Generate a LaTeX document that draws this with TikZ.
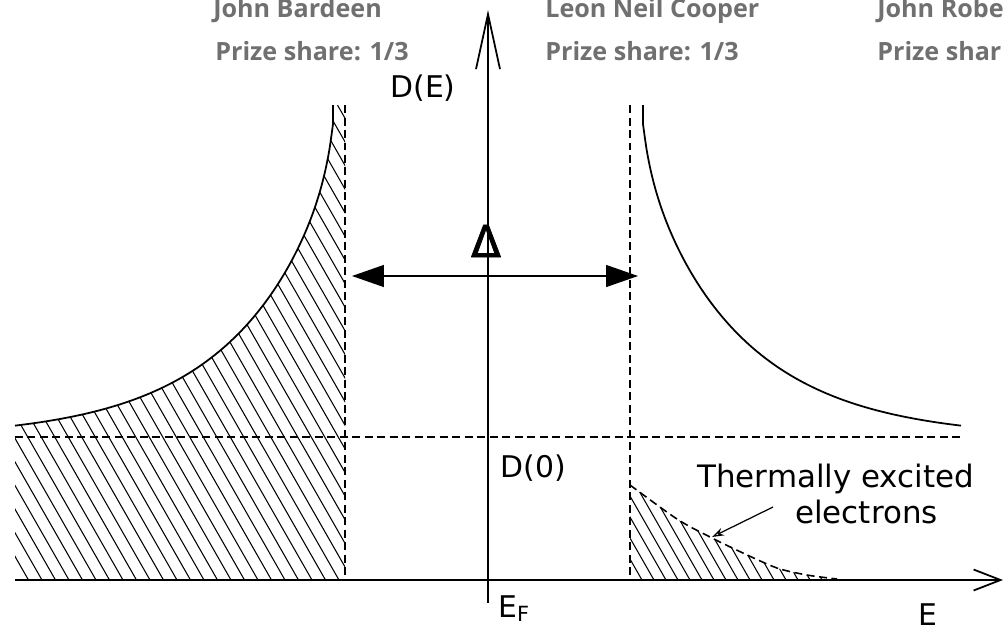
\documentclass[tikz,border=0pt]{standalone}
\usepackage{fontspec}
\setmainfont{DejaVu Sans}
\newfontfamily\hdrfont{Open Sans}
\newfontfamily\deltafont[FakeBold=1.6]{DejaVu Sans}
\usetikzlibrary{arrows.meta}
\definecolor{hdrgray}{RGB}{112,112,112}
\begin{document}
\begin{tikzpicture}[x=0.02cm,y=-0.02cm,
  axisline/.style={line width=1pt},
  curveline/.style={line width=1pt},
  gapline/.style={line width=0.9pt, dash pattern=on 0.16cm off 0.09cm},
  hatchline/.style={line width=0.6pt},
  lbl/.style={font=\fontsize{17}{20}\selectfont, inner sep=0pt},
  hdr/.style={font=\hdrfont\bfseries\fontsize{14.3}{17}\selectfont, text=hdrgray, inner sep=0pt},
  declare function={dos(\u)=580-(140+270*exp(-\u/105)+900/\u);}]

\useasboundingbox (0,0) rectangle (1004,630);

% key points
\coordinate (yb) at (488,603);
\coordinate (yt) at (488,10);
\coordinate (xl) at (15,580);
\coordinate (xr) at (1003,580);
\coordinate (gl1) at (345,105);
\coordinate (gl2) at (345,580);
\coordinate (gr1) at (630,105);
\coordinate (gr2) at (630,580);
\coordinate (d0l) at (15,437);
\coordinate (d0r) at (964,437);
\coordinate (dl) at (352,276);
\coordinate (dr) at (638,276);
\coordinate (ta) at (773,507);
\coordinate (tb) at (712,537);

% left hatched region
\begin{scope}
  \clip plot[domain=330:12, samples=90, smooth] ({345-\x}, {dos(\x)}) -- (333,105) -- (345,105) -- (345,580) -- (15,580) -- cycle;
  \foreach \a in {0,...,46} \draw[hatchline] ({15+13.5*\a},580) -- ++(-343,-600);
\end{scope}

% right hatched region
\begin{scope}
  \clip plot[smooth] coordinates {(630,485) (677,519) (710,537) (743,553) (777,568) (807,575) (837,580)} -- (630,580) -- cycle;
  \foreach \a in {0,...,24} \draw[hatchline] ({630+12*\a},580) -- ++(-343,-600);
\end{scope}

% curves
\draw[curveline] (333,105) -- plot[domain=12:330, samples=90, smooth] ({345-\x}, {dos(\x)});
\draw[curveline] (643,105) -- plot[domain=12:330, samples=90, smooth] ({631+\x}, {dos(\x)});
\draw[gapline] plot[smooth] coordinates {(630,485) (677,519) (710,537) (743,553) (777,568) (807,575) (837,579)};

% dashed lines
\draw[gapline] (gl1) -- (gl2);
\draw[gapline] (gr1) -- (gr2);
\draw[gapline] (d0l) -- (d0r);

% axes
\draw[axisline, -{Straight Barb[length=1.1cm,width=0.48cm]}] (yb) -- (yt);
\draw[axisline, -{Straight Barb[length=0.54cm,width=0.42cm]}] (xl) -- (xr);

% gap arrow
\draw[line width=0.8pt, {Triangle[length=0.64cm,width=0.44cm]}-{Triangle[length=0.64cm,width=0.44cm]}] (dl) -- (dr);

% thermal arrow
\draw[line width=0.7pt, -{Stealth[open,length=0.24cm,width=0.16cm]}] (ta) -- (tb);

% labels
\node[lbl, anchor=base west] (lDE) at (390,97) {D(E)};
\node[lbl, anchor=base west] (lD0) at (500,477) {D(0)};
\node[lbl, anchor=base west] (lEF) at (498,617) {E\textsubscript{F}};
\node[lbl, anchor=base west] (lE) at (918,625) {E};
\node[lbl, anchor=base west, font=\fontsize{17.6}{20}\selectfont] (lT1) at (697,487) {Thermally excited};
\node[lbl, anchor=base west, font=\fontsize{17.6}{20}\selectfont] (lT2) at (795,523) {electrons};
\node[inner sep=0pt, anchor=base, font=\deltafont\fontsize{25}{28}\selectfont] (lDelta) at (486,257) {Δ};

% header
\node[hdr, anchor=base west] (h1) at (213,17) {John Bardeen};
\node[hdr, anchor=base west] (h2) at (215,60) {Prize share: 1/3};
\node[hdr, anchor=base west] (h3) at (545,17) {Leon Neil Cooper};
\node[hdr, anchor=base west] (h4) at (545,60) {Prize share: 1/3};
\node[hdr, anchor=base west] (h5) at (877,17) {John Robe};
\node[hdr, anchor=base west] (h6) at (877,60) {Prize shar};
\end{tikzpicture}
\end{document}
